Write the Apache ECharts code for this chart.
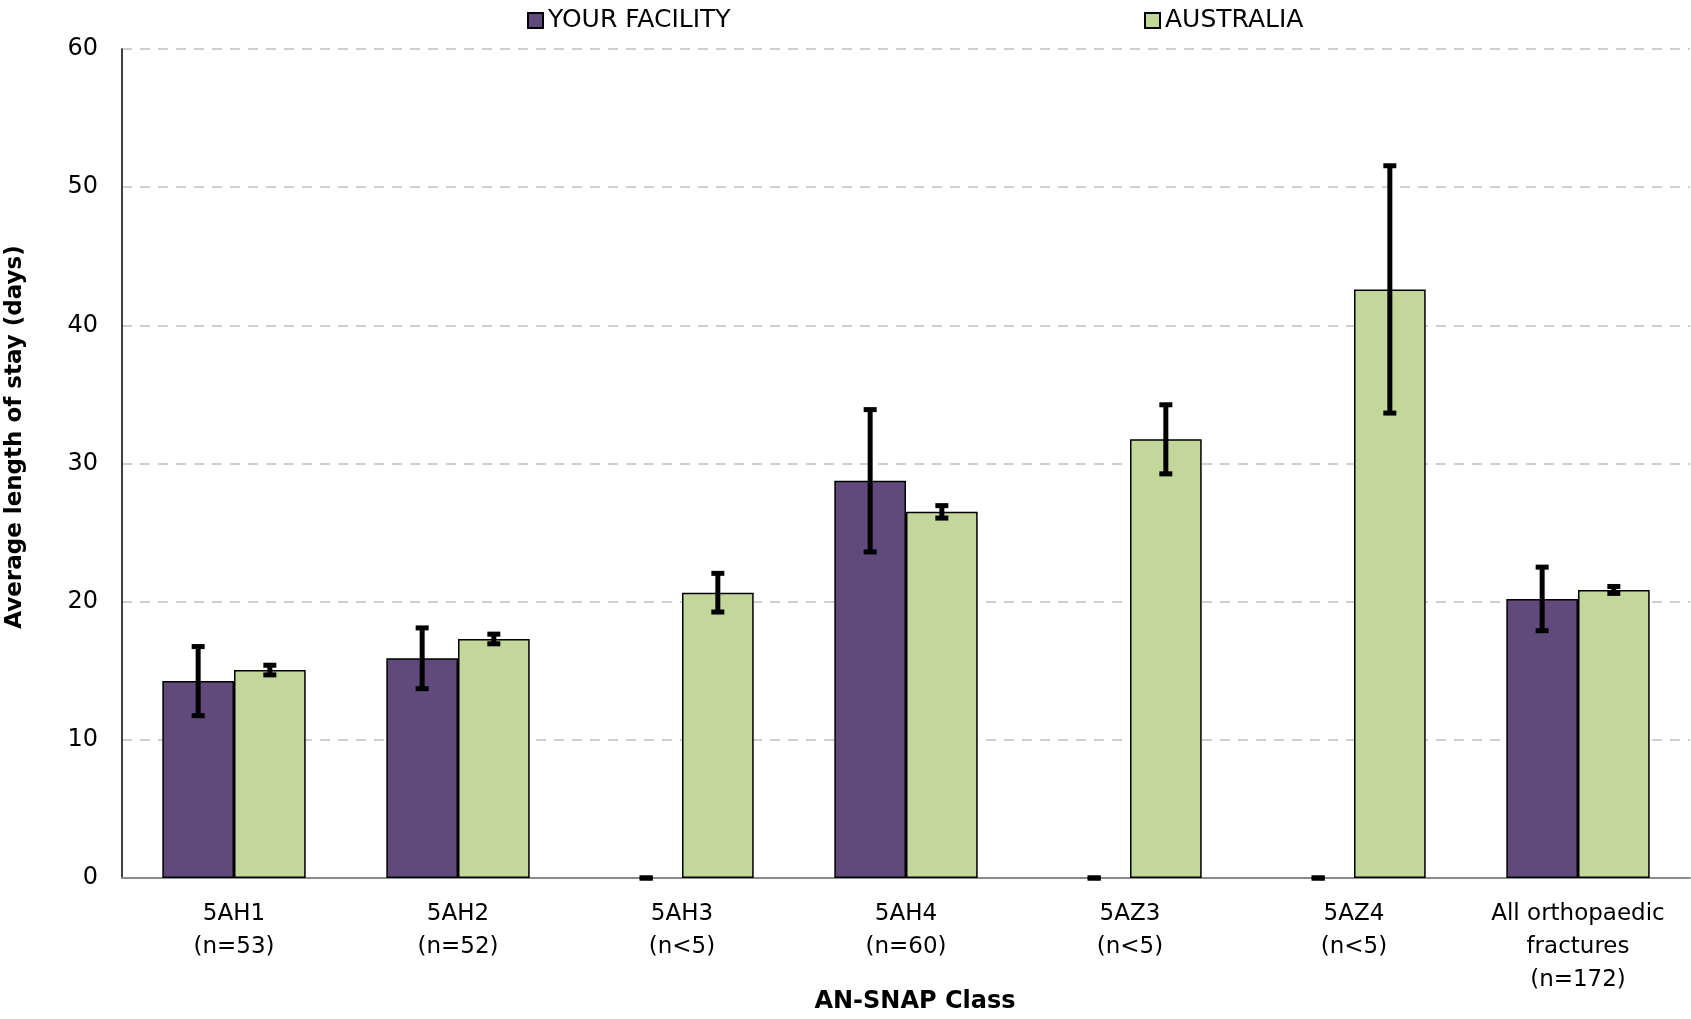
<!DOCTYPE html>
<html>
<head>
<meta charset="utf-8">
<script src="https://cdn.jsdelivr.net/npm/echarts@6/dist/echarts.min.js"></script>
<style>html,body{margin:0;padding:0;background:#fff}#c{width:1691px;height:1019px}</style>
</head>
<body>
<div id="c"></div>
<script>
const categories = ['5AH1\n(n=53)', '5AH2\n(n=52)', '5AH3\n(n<5)', '5AH4\n(n=60)', '5AZ3\n(n<5)', '5AZ4\n(n<5)', 'All orthopaedic\nfractures\n(n=172)'];
const facility = [14.25, 15.9, 0, 28.75, 0, 0, 20.2];
const facilityErr = [2.5, 2.2, 0, 5.15, 0, 0, 2.3];
const australia = [15.05, 17.3, 20.65, 26.5, 31.75, 42.6, 20.85];
const australiaErr = [0.35, 0.35, 1.4, 0.45, 2.5, 8.95, 0.25];
const yTicks = [0, 10, 20, 30, 40, 50, 60];

const FONT = '"DejaVu Sans"';
const PURPLE = '#604A7B';
const GREEN = '#C4D79B';

function barData(vals) {
  return vals.map(v => v === 0 ? { value: 0, itemStyle: { borderWidth: 0 } } : v);
}
function errData(vals, errs) {
  return vals.map((v, i) => [i, v - errs[i], v + errs[i], v]);
}
function errSeries(name, vals, errs, side) {
  return {
    type: 'custom',
    name: name + ' err',
    z: 10,
    silent: true,
    data: errData(vals, errs),
    encode: { x: 0, y: [1, 2] },
    renderItem: function (params, api) {
      const idx = api.value(0);
      const band = api.size([1, 0])[0];
      const barW = band * 0.32;
      const lo = api.coord([idx, api.value(1)]);
      const hi = api.coord([idx, api.value(2)]);
      const x = lo[0] + side * barW / 2;
      const cap = 6.5;
      const st = { stroke: '#000', lineWidth: 5 };
      return {
        type: 'group',
        children: [
          { type: 'line', shape: { x1: x, y1: lo[1], x2: x, y2: hi[1] }, style: st },
          { type: 'line', shape: { x1: x - cap, y1: lo[1], x2: x + cap, y2: lo[1] }, style: st },
          { type: 'line', shape: { x1: x - cap, y1: hi[1], x2: x + cap, y2: hi[1] }, style: st }
        ]
      };
    }
  };
}

const chart = echarts.init(document.getElementById('c'));
chart.setOption({
  animation: false,
  textStyle: { fontFamily: FONT },
  legend: [
    { left: 522, top: 3, icon: 'rect', itemWidth: 15, itemHeight: 15, itemGap: 6,
      textStyle: { fontFamily: FONT, fontSize: 25, color: '#000' }, data: ['YOUR FACILITY'] },
    { left: 1139, top: 3, icon: 'rect', itemWidth: 15, itemHeight: 15, itemGap: 6,
      textStyle: { fontFamily: FONT, fontSize: 25, color: '#000' }, data: ['AUSTRALIA'] }
  ],
  grid: { left: 122, right: 1, top: 49, bottom: 141, containLabel: false, outerBoundsMode: 'none' },
  graphic: [{
    type: 'text', x: 15, y: 437, rotation: Math.PI / 2,
    style: { text: 'Average length of stay (days)', font: 'bold 23px "DejaVu Sans"', fill: '#000',
      textAlign: 'center', textVerticalAlign: 'middle' }
  }, {
    type: 'text', x: 915, y: 1002,
    style: { text: 'AN-SNAP Class', font: 'bold 24px "DejaVu Sans"', fill: '#000',
      textAlign: 'center', textVerticalAlign: 'middle' }
  }],
  xAxis: {
    type: 'category',
    data: categories,
    axisLine: { lineStyle: { color: '#8c8c8c', width: 2 } },
    axisTick: { show: false },
    axisLabel: { fontFamily: FONT, fontSize: 23, color: '#000', margin: 20, lineHeight: 33, interval: 0 }
  },
  yAxis: {
    type: 'value',
    min: 0, max: 60, interval: 10,
    axisLine: { show: true, lineStyle: { color: '#000', width: 1.5 } },
    axisTick: { show: false },
    axisLabel: { fontFamily: FONT, fontSize: 24, color: '#000', margin: 24,
      formatter: v => yTicks.includes(v) ? String(v) : '' },
    splitLine: { lineStyle: { color: '#c0c0c0', type: [10, 8], width: 1.5 } }
  },
  series: [
    { type: 'bar', name: 'YOUR FACILITY', data: barData(facility), barGap: '0%', barCategoryGap: '36%',
      itemStyle: { color: PURPLE, borderColor: '#000', borderWidth: 1.5 } },
    { type: 'bar', name: 'AUSTRALIA', data: barData(australia), barGap: '0%', barCategoryGap: '36%',
      itemStyle: { color: GREEN, borderColor: '#000', borderWidth: 1.5 } },
    errSeries('YOUR FACILITY', facility, facilityErr, -1),
    errSeries('AUSTRALIA', australia, australiaErr, 1)
  ]
});
</script>
</body>
</html>
